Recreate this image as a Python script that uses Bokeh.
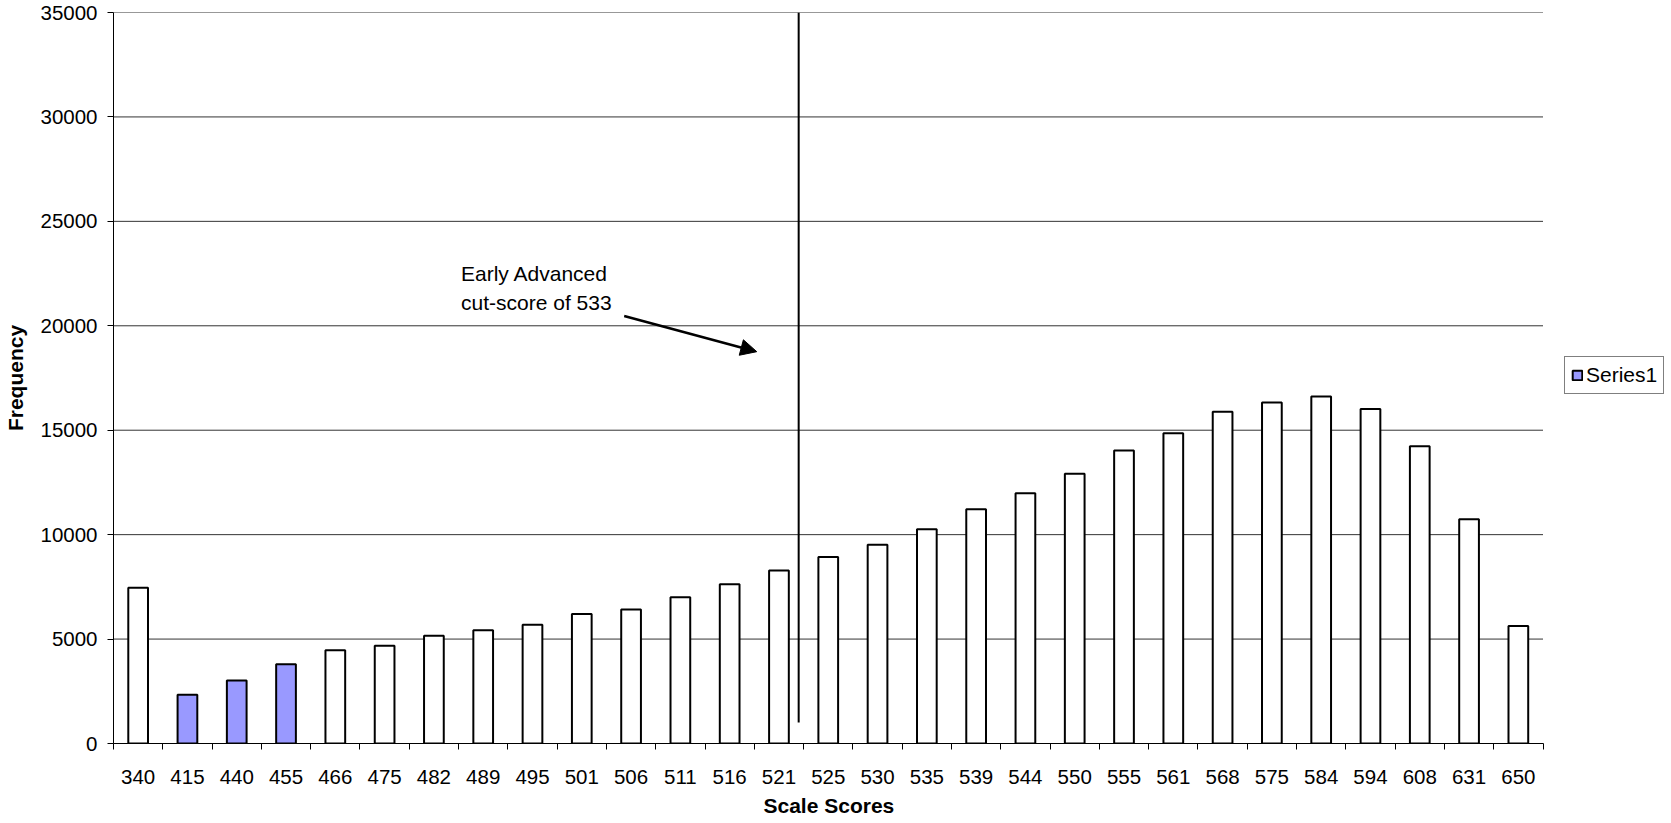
from bokeh.plotting import figure
from bokeh.models import (Range1d, FixedTicker, ColumnDataSource, Legend, LegendItem,
                          Arrow, NormalHead, Label, Segment, Title)
from bokeh.embed import file_html
from bokeh.resources import INLINE

# Frequency of each reported scale score
scores = ["340", "415", "440", "455", "466", "475", "482", "489", "495", "501",
          "506", "511", "516", "521", "525", "530", "535", "539", "544", "550",
          "555", "561", "568", "575", "584", "594", "608", "631", "650"]
frequency = [7460, 2330, 3020, 3790, 4470, 4680, 5160, 5420, 5690, 6200,
             6410, 7000, 7620, 8280, 8930, 9520, 10260, 11210, 11980, 12920,
             14030, 14860, 15880, 16330, 16610, 16010, 14230, 10740, 5620]
highlighted = ["415", "440", "455"]
y_ticks = [0, 5000, 10000, 15000, 20000, 25000, 30000, 35000]

FONT = "Liberation Sans"
BAR_COLOR = "#9999FF"

n = len(scores)
centers = [i + 0.5 for i in range(n)]
fills = [BAR_COLOR if s in highlighted else "white" for s in scores]
src = ColumnDataSource(dict(x=centers, top=frequency, score=scores, fill=fills))

# the plotting frame runs to the right edge so the legend can sit beside the bars;
# the category axis itself only spans 0..n
x_end = n * 1558 / 1429.5

p = figure(width=1671, height=823, output_backend="svg", toolbar_location=None,
           x_range=Range1d(0, x_end), y_range=Range1d(0, 35000),
           min_border_left=113, min_border_right=0, min_border_top=12,
           min_border_bottom=80)
p.outline_line_color = None
p.background_fill_color = "white"
p.border_fill_color = "white"

# horizontal gridlines limited to the category span
p.xgrid.grid_line_color = None
p.ygrid.grid_line_color = None
p.segment(x0=[0] * len(y_ticks), x1=[n] * len(y_ticks), y0=y_ticks, y1=y_ticks,
          line_color="#333333", line_width=1)

bars = p.vbar(x="x", top="top", width=0.4, bottom=0, source=src,
              fill_color="fill", line_color="black", line_width=2)

# x axis: labels centred on each category, tick marks between categories
xax = p.xaxis[0]
xax.bounds = (0, n)
xax.ticker = FixedTicker(ticks=centers, minor_ticks=list(range(n + 1)))
xax.major_label_overrides = {c: s for c, s in zip(centers, scores)}
xax.major_tick_out = 0
xax.major_tick_in = 0
xax.minor_tick_out = 6
xax.minor_tick_in = 0
xax.minor_tick_line_color = "black"
xax.axis_line_color = "black"
xax.major_label_standoff = 20
xax.major_label_text_font = FONT
xax.major_label_text_font_size = "20.5px"
xax.major_label_text_color = "black"

# x axis title, centred under the category span rather than the whole frame
p.add_layout(Title(text="Scale Scores", align="left", offset=650,
                   vertical_align="bottom", standoff=10,
                   text_font=FONT, text_font_size="21px", text_font_style="bold",
                   text_color="black"), "below")

yax = p.yaxis[0]
yax.ticker = FixedTicker(ticks=y_ticks, minor_ticks=[])
yax.major_tick_out = 6
yax.major_tick_in = 0
yax.major_tick_line_color = "black"
yax.axis_line_color = "black"
yax.major_label_standoff = 10
yax.major_label_text_font = FONT
yax.major_label_text_font_size = "20.5px"
yax.major_label_text_color = "black"
yax.axis_label = "Frequency"
yax.axis_label_text_font = FONT
yax.axis_label_text_font_size = "21px"
yax.axis_label_text_font_style = "bold"
yax.axis_label_text_color = "black"
yax.axis_label_standoff = 10

# cut-score marker line
p.add_glyph(Segment(x0=13.9, y0=1000, x1=13.9, y1=35000,
                    line_color="black", line_width=2))

# annotation text and arrow
p.add_layout(Label(x=7.05, y=23050, text="Early Advanced\ncut-score of 533",
                   text_font=FONT, text_font_size="21px", text_color="black",
                   text_baseline="top", text_align="left", text_line_height=1.25))
p.add_layout(Arrow(x_start=10.36, y_start=20470, x_end=13.05, y_end=18760,
                   line_color="black", line_width=2.5,
                   end=NormalHead(size=16, fill_color="black", line_color="black",
                                  line_width=1)))

legend = Legend(items=[LegendItem(label="Series1", renderers=[bars], index=1)],
                location=(1451, 349), orientation="vertical",
                border_line_color="black", border_line_width=1,
                background_fill_color="white", background_fill_alpha=1,
                label_text_font=FONT, label_text_font_size="21px",
                label_text_color="black", glyph_width=12, glyph_height=12,
                label_height=22, label_standoff=3, padding=6, spacing=0, margin=0)
p.add_layout(legend)

open("out.html", "w").write(file_html(p, INLINE))
